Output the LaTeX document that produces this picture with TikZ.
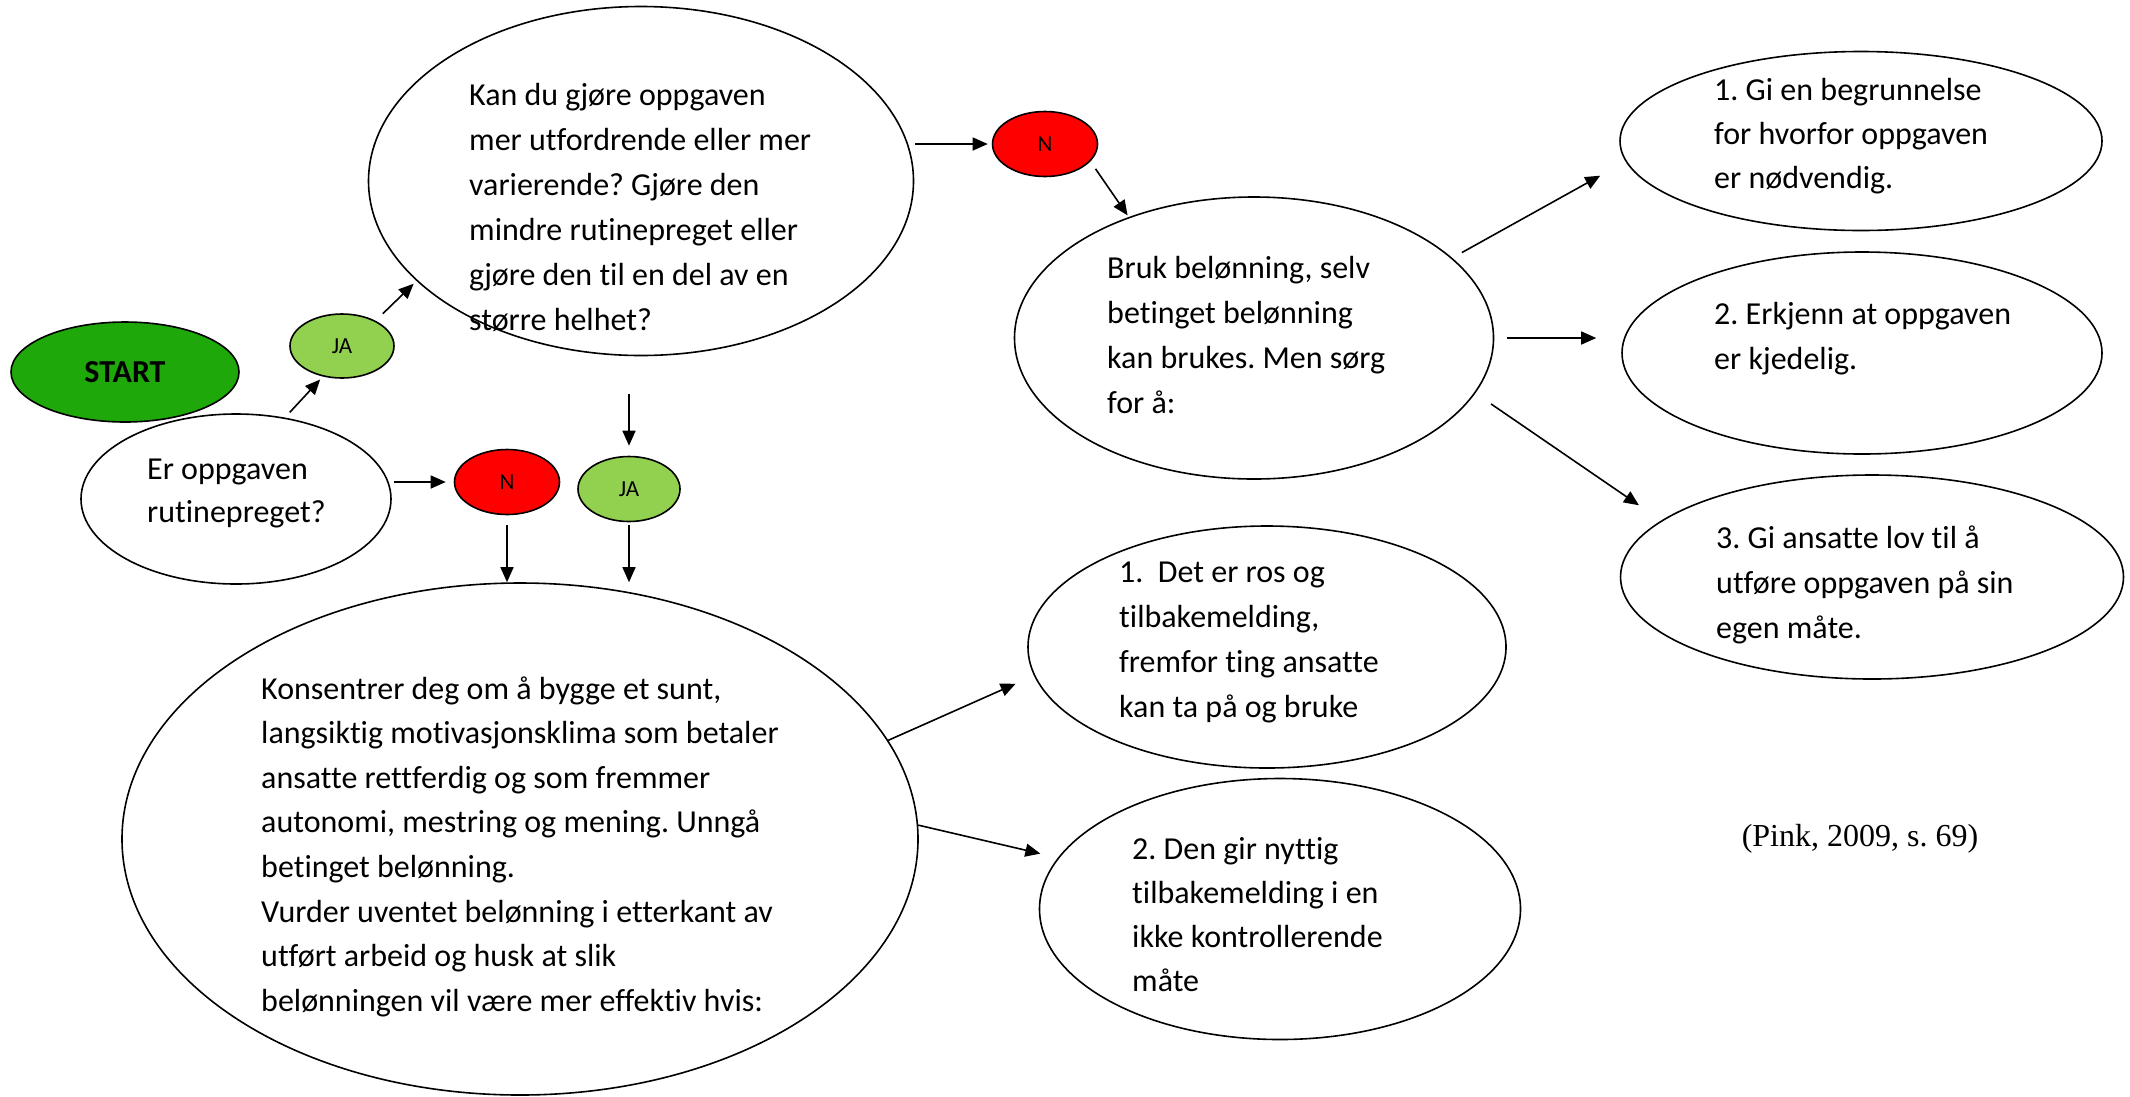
\documentclass[tikz,border=0pt]{standalone}
\usepackage{fontspec}
\setmainfont{Carlito}[Ligatures=NoCommon]
\newfontfamily\tnr{Liberation Serif}
\usetikzlibrary{shapes.geometric,arrows.meta,calc}
\definecolor{startgreen}{RGB}{30,168,10}
\definecolor{jagreen}{RGB}{146,208,80}
\definecolor{neired}{RGB}{255,0,0}
\newcommand\txtlines[2]{\vtop{\baselineskip=#1pt\halign{##\hfil\cr#2\crcr}}}
\frenchspacing
\begin{document}
\begin{tikzpicture}[x=1pt,y=-1pt,
  bub/.style={draw=black, line width=1.6pt, ellipse, inner sep=0pt, fill=white},
  small/.style={bub, font=\fontsize{23}{26}\selectfont},
  txt/.style={anchor=base west, inner sep=0pt, font=\fontsize{32}{45}\selectfont},
  arr/.style={line width=1.6pt, -{Triangle[length=15pt,width=13pt]}}]
\useasboundingbox (0,0) rectangle (2130,1096);
% ellipses
\node[bub, fill=startgreen, minimum width=228pt, minimum height=100pt, font=\fontsize{32}{38}\selectfont\bfseries] (start) at (125,372) {START};
\node[bub, minimum width=310pt, minimum height=170pt] (er) at (236,499) {};
\node[small, fill=jagreen, minimum width=104pt, minimum height=64pt] (ja1) at (342,346) {JA};
\node[small, fill=neired, minimum width=105pt, minimum height=65pt] (n1) at (507,482) {N};
\node[small, fill=jagreen, minimum width=102pt, minimum height=65pt] (ja2) at (629,489) {JA};
\node[bub, minimum width=545pt, minimum height=349pt] (q) at (641,181) {};
\node[small, fill=neired, minimum width=105pt, minimum height=65pt] (n2) at (1045,144) {N};
\node[bub, minimum width=479pt, minimum height=282pt] (bruk) at (1254,338) {};
\node[bub, minimum width=482pt, minimum height=179pt] (r1) at (1861,141) {};
\node[bub, minimum width=480pt, minimum height=202pt] (r2) at (1862,353) {};
\node[bub, minimum width=503pt, minimum height=204pt] (r3) at (1872,577) {};
\node[bub, minimum width=796pt, minimum height=512pt] (k) at (520,839) {};
\node[bub, minimum width=478pt, minimum height=242pt] (det) at (1267,647) {};
\node[bub, minimum width=481pt, minimum height=261pt] (den) at (1280,909) {};
% texts
\node[txt] (ter) at (147,479) {\txtlines{43}{Er oppgaven\cr rutinepreget?}};
\node[txt] (tq) at (469,105) {\txtlines{45}{Kan du gjøre oppgaven\cr mer utfordrende eller mer\cr varierende? Gjøre den\cr mindre rutinepreget eller\cr gjøre den til en del av en\cr større helhet?}};
\node[txt] (tbruk) at (1107,278) {\txtlines{45}{Bruk belønning, selv\cr betinget belønning\cr kan brukes. Men sørg\cr for å:}};
\node[txt] (tr1) at (1714,100) {\txtlines{44}{1. Gi en begrunnelse\cr for hvorfor oppgaven\cr er nødvendig.}};
\node[txt] (tr2) at (1714,324) {\txtlines{45}{2. Erkjenn at oppgaven\cr er kjedelig.}};
\node[txt] (tr3) at (1716,548) {\txtlines{45}{3. Gi ansatte lov til å\cr utføre oppgaven på sin\cr egen måte.}};
\node[txt] (tk) at (261,699) {\txtlines{44.6}{Konsentrer deg om å bygge et sunt,\cr langsiktig motivasjonsklima som betaler\cr ansatte rettferdig og som fremmer\cr autonomi, mestring og mening. Unngå\cr betinget belønning.\cr Vurder uventet belønning i etterkant av\cr utført arbeid og husk at slik\cr belønningen vil være mer effektiv hvis:}};
\node[txt] (tdet) at (1119,582) {\txtlines{45}{1.\ \ Det er ros og\cr tilbakemelding,\cr fremfor ting ansatte\cr kan ta på og bruke}};
\node[txt] (tden) at (1132,859) {\txtlines{44}{2. Den gir nyttig\cr tilbakemelding i en\cr ikke kontrollerende\cr måte}};
\node[font=\tnr\fontsize{32}{38}\selectfont, inner sep=0pt] (cite) at (1860,839) {(Pink, 2009, s. 69)};
% arrows
\draw[arr, shorten <=7pt, shorten >=4pt] (er.59) -- (ja1.238);
\draw[arr, shorten <=10pt, shorten >=4pt] (ja1.37) -- (q.204);
\draw[arr, shorten <=2pt, shorten >=8pt] (n1.west -| er.east) -- (n1.west);
\draw[arr, shorten <=38pt, shorten >=10pt] (ja2.north |- q.south) -- (ja2.north);
\draw[arr, shorten <=10pt] (n1.south) -- (n1.south |- k.north);
\draw[arr, shorten <=3pt] (ja2.south) -- (ja2.south |- k.north);
\draw[arr, shorten <=1pt, shorten >=4pt] (n2.west -| q.east) -- (n2.west);
\draw[arr, shorten <=9pt, shorten >=2pt] (n2.339) -- (bruk.136);
\draw[arr, shorten <=11pt, shorten >=29pt] (bruk.22) -- (r1.185);
\draw[arr, shorten <=13pt, shorten >=25pt] (bruk.east) -- (bruk.east -| r2.west);
\draw[arr, shorten <=19pt, shorten >=27pt] (bruk.346) -- (r3.165);
\draw[arr, shorten >=20pt] (k.15) -- (det.187);
\draw[arr, shorten >=18pt] (k.2) -- (den.167);
\end{tikzpicture}
\end{document}
